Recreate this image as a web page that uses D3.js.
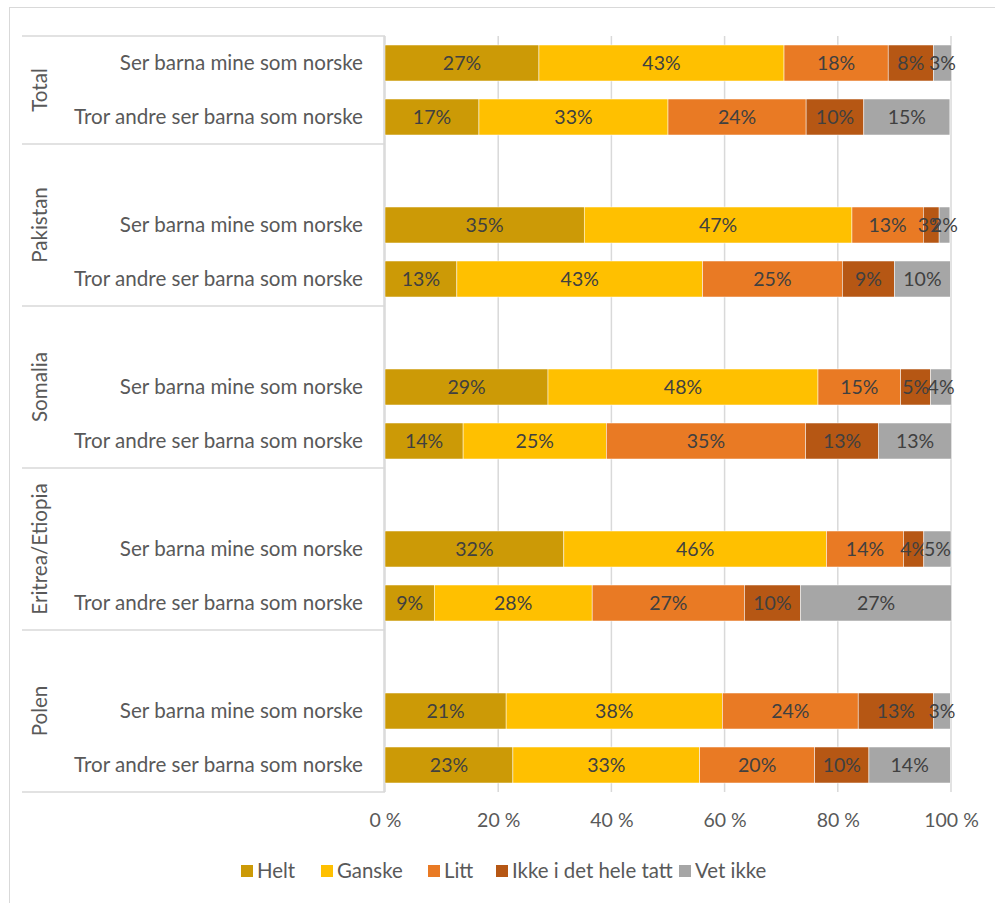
<!DOCTYPE html>
<html><head><meta charset="utf-8">
<script src="https://cdn.jsdelivr.net/npm/d3@7"></script>
<style>body{margin:0;background:#fff}svg text{font-family:Lato,"Open Sans",sans-serif}</style>
</head><body>
<svg id="c" width="995" height="903"></svg>
<script>
const groups = ["Total","Pakistan","Somalia","Eritrea/Etiopia","Polen"];
const questions = ["Ser barna mine som norske","Tror andre ser barna som norske"];
const seriesNames = ["Helt","Ganske","Litt","Ikke i det hele tatt","Vet ikke"];
const colors = ["#CC9A06","#FFC000","#E97A24","#B65714","#A6A6A6"];
// values in percent, rows in order: group x question
const helt   = [27.2,16.6, 35.2,12.7, 28.8,13.8, 31.6,8.7, 21.4,22.6];
const ganske = [43.3,33.4, 47.3,43.4, 47.7,25.3, 46.4,27.9, 38.2,33.0];
const litt   = [18.4,24.4, 12.6,24.7, 14.6,35.2, 13.6,26.9, 24.0,20.3];
const ikke   = [8.0,10.2, 2.8,9.2, 5.3,12.9, 3.6,9.9, 13.3,9.6];
const vetIkke= [3.2,15.2, 1.9,9.9, 3.7,12.9, 4.8,26.7, 3.0,14.4];
const xTicks = [0,20,40,60,80,100];
const tickLabels = ["0 %","20 %","40 %","60 %","80 %","100 %"];

const series = [helt,ganske,litt,ikke,vetIkke];
const svg = d3.select("#c");
svg.append("rect").attr("x",9.5).attr("y",7.5).attr("width",995).attr("height",905)
  .attr("fill","#fff").attr("stroke","#d9d9d9");

const slots = [];
const rows = [];
groups.forEach((g,gi)=>{
  if(gi>0) slots.push(g+"|blank");
  questions.forEach((q,qi)=>{ slots.push(g+"|"+q); rows.push({g,q,idx:gi*2+qi}); });
});
const pTop=36, pBottom=792, pLeft=385, pRight=951;
const y = d3.scaleBand().domain(slots).range([pTop,pBottom]).paddingInner(1/3).paddingOuter(1/6);
const x = d3.scaleLinear().domain([0,100]).range([pLeft,pRight]);

svg.append("g").selectAll("line").data(xTicks).join("line")
  .attr("x1",d=>x(d)).attr("x2",d=>x(d)).attr("y1",pTop).attr("y2",pBottom)
  .attr("stroke","#d9d9d9").attr("stroke-width",1.5);

const xAxis = d3.axisBottom(x).tickValues(xTicks).tickFormat((d,i)=>tickLabels[i]).tickSize(0).tickPadding(21);
const gx = svg.append("g").attr("transform",`translate(0,${pBottom})`).call(xAxis);
gx.select(".domain").remove();
gx.selectAll("text").attr("font-size",19.5).attr("fill","#595959").style("font-family","Lato");

rows.forEach(r=>{
  let cum=0;
  series.forEach((s,si)=>{
    const v=s[r.idx];
    const x0=x(cum), x1=x(cum+v);
    const yy=y(r.g+"|"+r.q);
    svg.append("rect").attr("x",x0).attr("y",yy).attr("width",x1-x0).attr("height",y.bandwidth())
      .attr("fill",colors[si]).attr("stroke","#fff").attr("stroke-width",0.5);
    svg.append("text").attr("x",(x0+x1)/2).attr("y",yy+y.bandwidth()/2).attr("dy","0.35em")
      .attr("text-anchor","middle").attr("font-size",19.5).attr("fill","#404040")
      .text(Math.round(v)+"%");
    cum+=v;
  });
});

svg.append("g").selectAll("text").data(rows).join("text")
  .attr("x",363).attr("y",d=>y(d.g+"|"+d.q)+y.bandwidth()/2).attr("dy","0.35em")
  .attr("text-anchor","end").attr("font-size",20.6).attr("fill","#595959").text(d=>d.q);

const sepYs = [pTop];
groups.forEach(g=>{ sepYs.push(y(g+"|"+questions[1]) - y.step()*(1/6) + y.step()); });
svg.append("g").selectAll("line").data(sepYs).join("line")
  .attr("x1",22).attr("x2",pLeft).attr("y1",d=>d).attr("y2",d=>d)
  .attr("stroke","#d9d9d9").attr("stroke-width",1.5);
svg.append("line").attr("x1",pLeft-1).attr("x2",pLeft-1).attr("y1",pTop).attr("y2",pBottom)
  .attr("stroke","#d9d9d9").attr("stroke-width",1.5);

groups.forEach((g,gi)=>{
  const cy=(sepYs[gi]+sepYs[gi+1])/2;
  svg.append("text").attr("transform",`translate(47,${cy}) rotate(-90)`)
    .attr("text-anchor","middle").attr("font-size",20.6).attr("fill","#595959").text(g);
});

const legX=[241,321,428,496,679];
const lg = svg.append("g");
seriesNames.forEach((n,i)=>{
  lg.append("rect").attr("x",legX[i]).attr("y",865).attr("width",12).attr("height",12).attr("fill",colors[i]);
  lg.append("text").attr("x",legX[i]+16).attr("y",871).attr("dy","0.35em").attr("font-size",20.4)
    .attr("fill","#595959").text(n);
});
</script>
</body></html>
